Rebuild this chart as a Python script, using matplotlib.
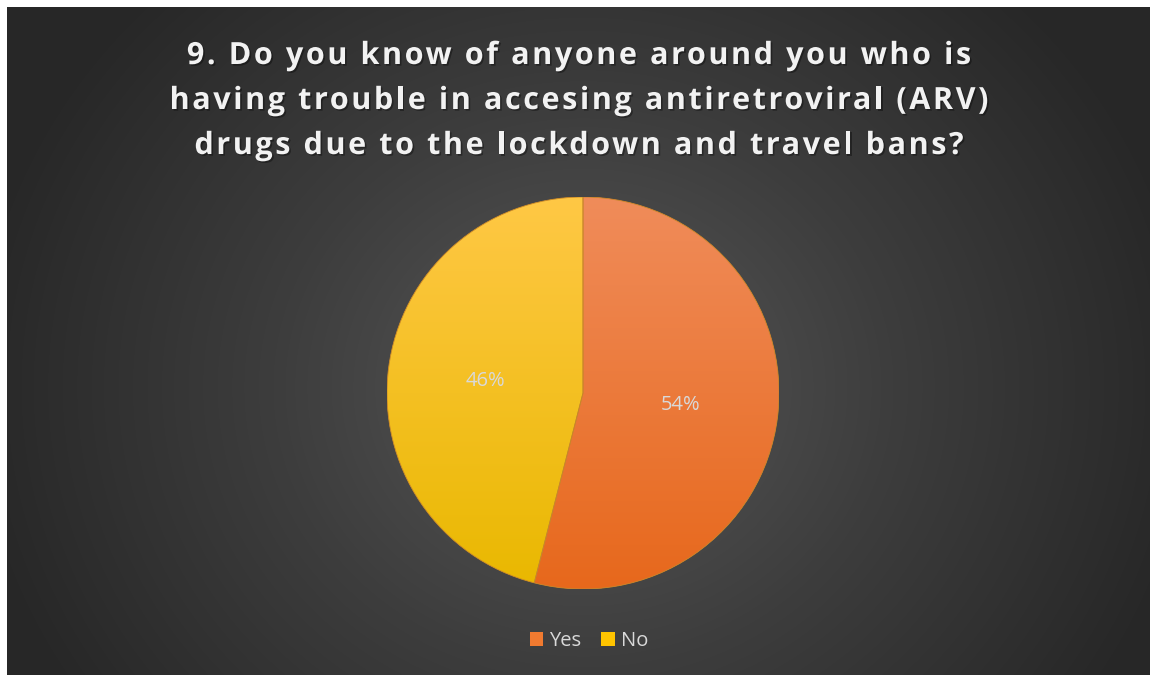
import numpy as np
import matplotlib
matplotlib.use("Agg")
import matplotlib.pyplot as plt
from matplotlib.colors import LinearSegmentedColormap
from matplotlib.patches import Patch, Wedge
from matplotlib.font_manager import FontProperties, findfont, get_font
from matplotlib.ft2font import Kerning
import matplotlib.patheffects as pe

# ---- data ----
categories = ["Yes", "No"]
values = [54, 46]
title_lines = ["9. Do you know of anyone around you who is",
               "having trouble in accesing antiretroviral (ARV)",
               "drugs due to the lockdown and travel bans?"]

# ---- styles ----
base_colors = ["#F07A30", "#FFC400"]
grad_top = ["#F08C5A", "#FFC845"]
grad_bot = ["#E7681C", "#E9B800"]

W, H = 1152, 675
fig = plt.figure(figsize=(W / 100, H / 100), dpi=100, facecolor="white")

# background panel with radial gradient
bg = fig.add_axes([7 / W, 0, (W - 9) / W, (H - 7) / H])
bg.set_axis_off()
yy, xx = np.mgrid[0:668, 0:1143]
cx, cy = 576, 380
r = np.sqrt(((xx - cx) / 620.0) ** 2 + ((yy - cy) / 560.0) ** 2)
r = np.clip(r, 0, 1)
bgcmap = LinearSegmentedColormap.from_list("bg", ["#585858", "#3d3d3d", "#272727"])
bg.imshow(r, cmap=bgcmap, vmin=0, vmax=1, aspect="auto", interpolation="bilinear")

# pie axes
R = 196
pcx, pcy = 583, 393
ax = fig.add_axes([(pcx - R) / W, (H - pcy - R) / H, 2 * R / W, 2 * R / H])
ax.set_facecolor("none")
wedges, texts, autotexts = ax.pie(
    values, colors=base_colors, startangle=90, counterclock=False,
    autopct="%1.0f%%", pctdistance=0.5, radius=1,
    wedgeprops=dict(edgecolor="none", linewidth=0),
    textprops=dict(color="#D9D9D9", fontsize=14.5, family="Open Sans"))

grad = np.linspace(1, 0, 256).reshape(-1, 1)
for w, ct, cb in zip(wedges, grad_top, grad_bot):
    cm = LinearSegmentedColormap.from_list("g", [cb, ct])
    im = ax.imshow(grad, cmap=cm, extent=[-1, 1, -1, 1], aspect="auto",
                   zorder=w.get_zorder() + 0.1, interpolation="bilinear")
    im.set_clip_path(w)
for w in wedges:
    ax.add_patch(Wedge(w.center, w.r, w.theta1, w.theta2, facecolor="none",
                       edgecolor="#C8862A", linewidth=0.6, zorder=5))
for t in autotexts:
    t.set_zorder(10)
ax.set_xlim(-1.0, 1.0)
ax.set_ylim(-1.0, 1.0)
ax.set_aspect("auto")
ax.set_axis_off()

# title with letter spacing (drawn glyph by glyph)
tsize = 22
fp = FontProperties(family="Open Sans", weight="bold", size=tsize)
font = get_font(findfont(fp))
font.set_size(tsize, 100)
spacing = 2.6
baselines = [64, 109, 154]
tcx = 579
shadow = [pe.withSimplePatchShadow(offset=(1.2, -1.2), shadow_rgbFace="black", alpha=0.35)]
for line, base in zip(title_lines, baselines):
    advs, kerns = [], []
    prev = None
    for ch in line:
        idx = font.get_char_index(ord(ch))
        g = font.load_char(ord(ch))
        k = font.get_kerning(prev, idx, Kerning.DEFAULT) / 64.0 if prev is not None else 0.0
        advs.append(g.linearHoriAdvance / 65536.0)
        kerns.append(k)
        prev = idx
    total = sum(advs) + sum(kerns) + spacing * (len(line) - 1)
    x = tcx - total / 2
    for ch, a, k in zip(line, advs, kerns):
        x += k
        if ch != " ":
            fig.text(x / W, 1 - base / H, ch, ha="left", va="baseline",
                     fontproperties=fp, color="#F2F2F2", path_effects=shadow)
        x += a + spacing

# legend
handles = [Patch(facecolor=c, edgecolor="none") for c in base_colors]
leg = fig.legend(handles, categories, loc="center", bbox_to_anchor=(589 / W, 1 - 641 / H),
                 ncol=2, frameon=False, handlelength=0.65, handleheight=0.65,
                 handletextpad=0.3, columnspacing=1.0,
                 prop=dict(family="Open Sans", size=14.5))
for t in leg.get_texts():
    t.set_color("#D9D9D9")

fig.savefig("out.png", dpi=100, facecolor="white")
